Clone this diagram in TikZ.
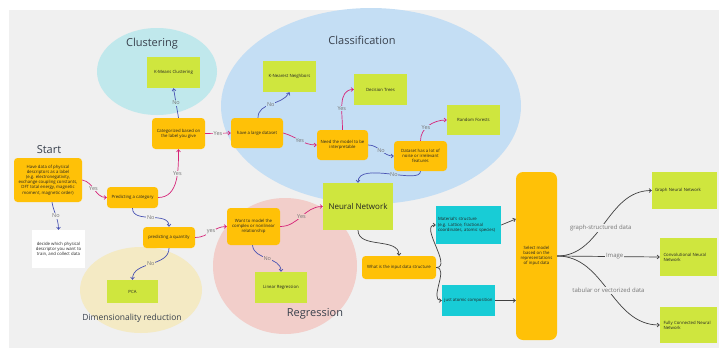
\documentclass[tikz,border=0pt]{standalone}
\usepackage{fontspec}
\setmainfont{Open Sans}
\usetikzlibrary{arrows.meta}
\definecolor{bg}{RGB}{240,240,240}
\definecolor{orng}{RGB}{255,193,7}
\definecolor{grn}{RGB}{207,230,62}
\definecolor{cyn}{RGB}{24,204,214}
\definecolor{clubg}{RGB}{192,232,236}
\definecolor{clsbg}{RGB}{196,222,244}
\definecolor{regbg}{RGB}{242,206,202}
\definecolor{dimbg}{RGB}{244,234,196}
\definecolor{mag}{RGB}{214,36,120}
\definecolor{blu}{RGB}{72,82,178}
\definecolor{dgr}{RGB}{64,64,64}
\definecolor{lblc}{RGB}{118,118,118}
\definecolor{ttl}{RGB}{56,64,76}
\definecolor{txt}{RGB}{35,35,35}
\tikzset{
  box/.style={inner sep=1pt, align=center, font=\fontsize{4.3}{5.2}\selectfont, text=txt},
  obox/.style 2 args={box, fill=orng, rounded corners=3.5pt, minimum width=#1, minimum height=#2},
  gbox/.style 2 args={box, fill=grn, minimum width=#1, minimum height=#2},
  cbox/.style 2 args={box, fill=cyn, minimum width=#1, minimum height=#2},
  wbox/.style 2 args={box, fill=white, minimum width=#1, minimum height=#2},
  arr/.style={line width=0.7pt, -{Straight Barb[length=2.2pt,width=3.8pt]}},
  magarr/.style={arr, draw=mag},
  bluarr/.style={arr, draw=blu},
  grarr/.style={arr, draw=dgr},
  lbl/.style={font=\fontsize{5.5}{6}\selectfont, text=lblc, inner sep=0.6pt, fill=#1},
  lbl/.default=bg,
  elbl/.style={font=\fontsize{6}{7}\selectfont, text=lblc, fill=bg, inner sep=0.8pt},
  ttlf/.style={font=\fontsize{11}{13}\selectfont, text=ttl, inner sep=0pt}
}
\begin{document}
\begin{tikzpicture}[x=1pt,y=1pt]
\useasboundingbox (0,0) rectangle (719,-348);
\fill[bg] (9,-10) rectangle (719,-348);
% group ellipses
\fill[clubg] (157,-71.5) ellipse[x radius=60pt, y radius=43.5pt];
\fill[clsbg] (371,-106) ellipse[x radius=150pt, y radius=98pt];
\fill[regbg] (285,-266) ellipse[x radius=72pt, y radius=68pt];
\fill[dimbg] (141,-290) ellipse[x radius=61pt, y radius=43pt];
% titles
\node[ttlf] (tstart) at (49,-150) {Start};
\node[ttlf] (tclu) at (152,-44) {Clustering};
\node[ttlf] (tcls) at (362,-40) {Classification};
\node[ttlf] (treg) at (315,-314) {Regression};
\node[ttlf, font=\fontsize{8.5}{10}\selectfont] (tdim) at (132,-318) {Dimensionality reduction};
% boxes
\node[obox={68pt}{44pt}] (start) at (48,-180) {Have data of physical\\descriptors as a label\\(e.g. electronegativity,\\exchange coupling constants,\\DFT total energy, magnetic\\moment, magnetic order)};
\node[wbox={53pt}{38pt}] (decide) at (58.5,-249) {decide which physical\\descriptor you want to\\train, and collect data};
\node[obox={51pt}{21pt}] (predcat) at (132.5,-197.5) {Predicting a category};
\node[obox={53pt}{31pt}] (categ) at (178.5,-133.5) {Categorized based on\\the label you give};
\node[gbox={53pt}{31pt}] (kmeans) at (173.5,-72.5) {K-Means Clustering};
\node[obox={52pt}{30pt}] (large) at (257,-133) {have a large dataset};
\node[gbox={53pt}{31pt}] (knn) at (289.5,-76.5) {K-Nearest Neighbors};
\node[obox={51pt}{30pt}] (interp) at (342.5,-145) {Need the model to be\\interpretable};
\node[gbox={53pt}{31pt}] (dtree) at (380.5,-89.5) {Decision Trees};
\node[obox={53pt}{30pt}] (noise) at (420.5,-156) {Dataset has a lot of\\noise or irrelevant\\features};
\node[gbox={53pt}{30pt}] (rforest) at (473.5,-120) {Random Forests};
\node[gbox={70pt}{47pt}, font=\fontsize{8}{9}\selectfont] (nn) at (358,-206.5) {Neural Network};
\node[obox={53pt}{37pt}] (want) at (253.5,-226.5) {Want to model the\\complex or nonlinear\\relationship};
\node[gbox={52pt}{31pt}] (linreg) at (281,-287.5) {Linear Regression};
\node[obox={52pt}{21pt}] (predq) at (169,-237.5) {predicting a quantity};
\node[gbox={51pt}{23pt}] (pca) at (132.5,-291.5) {PCA};
\node[obox={74pt}{23pt}] (what) at (399,-267.5) {What is the input data structure};
\node[cbox={65pt}{38pt}, align=left, text width=61pt] (mat) at (468.5,-225) {Material's structure\\(e.g. Lattice, fractional\\coordinates, atomic species)};
\node[cbox={53pt}{31pt}] (just) at (468.5,-300.5) {just atomic composition};
\node[obox={41pt}{168pt}, rounded corners=7pt] (select) at (536.5,-256) {Select model\\based on the\\representations\\of input data};
\node[gbox={65pt}{37pt}, align=left, text width=59pt] (gnn) at (684.5,-190.5) {Graph Neural Network};
\node[gbox={57pt}{38pt}, align=left, text width=50pt] (cnn) at (688.5,-257) {Convolutional Neural\\Network};
\node[gbox={57pt}{36pt}, align=left, text width=50pt] (fc) at (688.5,-325) {Fully Connected Neural\\Network};
% connectors
\draw[bluarr] ([xshift=4pt]start.south) to[out=-80,in=90] node[lbl]{No} (decide.north);
\draw[magarr] (start.east) to[out=-10,in=180] node[lbl,pos=0.45]{Yes} (predcat.west);
\draw[magarr] (predcat.east) to[out=0,in=-90] node[lbl,pos=0.62]{Yes} (categ.south);
\draw[bluarr] (categ.north) -- node[lbl=clubg]{No} (kmeans.south);
\draw[magarr] (categ.east) -- node[lbl]{Yes} (large.west);
\draw[bluarr] ([xshift=1pt]large.north) to[out=90,in=-120] node[lbl=clsbg]{No} (knn.south);
\draw[magarr] (large.east) to[out=-15,in=180] node[lbl=clsbg]{Yes} (interp.west);
\draw[magarr] (interp.north) to[out=90,in=180] node[lbl=clsbg,pos=0.4]{Yes} (dtree.west);
\draw[bluarr] (interp.east) to[out=0,in=180] node[lbl=clsbg]{No} (noise.west);
\draw[magarr] (noise.north) to[out=90,in=180] node[lbl=clsbg,pos=0.4]{Yes} (rforest.west);
\draw[bluarr] (noise.south) .. controls +(0,-14) and +(0,22) .. node[lbl=clsbg,pos=0.45]{No} (nn.north);
\draw[magarr] (want.east) to[out=0,in=180] node[lbl=regbg]{Yes} (nn.west);
\draw[bluarr] ([xshift=-1pt]want.south) to[out=-85,in=90] node[lbl=regbg]{No} (linreg.north);
\draw[bluarr] (predcat.south) to[out=-90,in=90] node[lbl]{No} (predq.north);
\draw[magarr] (predq.east) to[out=0,in=180] node[lbl]{yes} (want.west);
\draw[bluarr] (predq.south) to[out=-90,in=90] node[lbl=dimbg]{No} (pca.north);
\draw[grarr] (nn.south) to[out=-90,in=90] (what.north);
\draw[grarr] (what.east) to[out=0,in=180] (mat.west);
\draw[grarr] (what.east) to[out=0,in=180] (just.west);
\draw[grarr] (mat.east) -- ([yshift=6pt]mat.east -| select.west);
\draw[grarr] (just.east) -- (just.east -| select.west);
\draw[grarr] (select.east) to[out=0,in=180] node[elbl,pos=0.45]{graph-structured data} (gnn.west);
\draw[grarr] (select.east) -- node[elbl,pos=0.56]{Image} (cnn.west);
\draw[grarr] (select.east) to[out=0,in=180] node[elbl]{tabular or vectorized data} (fc.west);
\end{tikzpicture}
\end{document}
